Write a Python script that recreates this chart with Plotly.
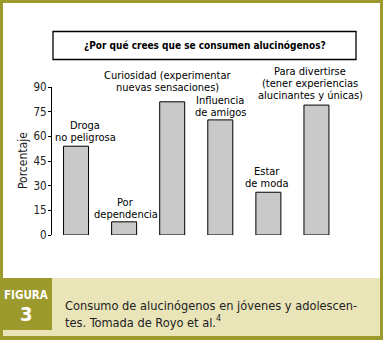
import plotly.graph_objects as go

# ---- data ----
categories = ["Droga no peligrosa", "Por dependencia", "Curiosidad", "Influencia de amigos", "Estar de moda", "Para divertirse"]
bar_labels = [
    "Droga<br>no peligrosa",
    "Por<br>dependencia",
    "Curiosidad (experimentar<br>nuevas sensaciones)",
    "Influencia<br>de amigos",
    "Estar<br>de moda",
    "Para divertirse<br>(tener experiencias<br>alucinantes y únicas)",
]
values = [54, 8, 81, 70, 26, 79]
y_ticks = [0, 15, 30, 45, 60, 75, 90]
title_text = "¿Por qué crees que se consumen alucinógenos?"
y_title = "Porcentaje"
fig_label = "FIGURA"
fig_number = "3"
caption = "Consumo de alucinógenos en jóvenes y adolescen-<br>tes. Tomada de Royo et al.<sup>4</sup>"

# ---- style / layout constants ----
W, H = 383, 340
FONT = "DejaVu Sans Condensed, Liberation Sans Narrow, sans-serif"
OLIVE = "#9d9a2d"
BEIGE = "#e9e5b9"
BAR = "#c9c9c9"
label_xshift = [9, 1.5, -4.5, 0, -1, -6]
label_gap = [9, 7, 14, 7, 9, 10]
LINE_H = 12


def px(x):
    return x / W


def py(y):
    return 1 - y / H


fig = go.Figure()
fig.add_trace(go.Bar(
    x=categories, y=values,
    marker=dict(color=BAR, line=dict(color="black", width=1)),
    width=0.52, hoverinfo="skip",
))

annotations = []
for i, (cat, val, lab) in enumerate(zip(categories, values, bar_labels)):
    lines = lab.split("<br>")
    n = len(lines)
    for k, line in enumerate(lines):
        from_bottom = n - 1 - k
        annotations.append(dict(
            x=cat, y=val, xref="x", yref="y", text=line, showarrow=False,
            xanchor="center", yanchor="middle",
            xshift=label_xshift[i], yshift=label_gap[i] + from_bottom * LINE_H,
            font=dict(family=FONT, size=11, color="black"),
        ))

annotations += [
    dict(x=px(205), y=py(45.5), xref="paper", yref="paper", text="<b>" + title_text + "</b>",
         showarrow=False, xanchor="center", yanchor="middle",
         font=dict(family=FONT, size=10, color="black")),
    dict(x=px(23), y=py(161), xref="paper", yref="paper", text=y_title, textangle=-90,
         showarrow=False, xanchor="center", yanchor="middle",
         font=dict(family=FONT, size=12, color="#222222")),
    dict(x=px(26), y=py(295), xref="paper", yref="paper", text="<b>" + fig_label + "</b>",
         showarrow=False, xanchor="center", yanchor="middle",
         font=dict(family=FONT, size=11.5, color="white")),
    dict(x=px(26), y=py(314), xref="paper", yref="paper", text="<b>" + fig_number + "</b>",
         showarrow=False, xanchor="center", yanchor="middle",
         font=dict(family=FONT, size=20, color="white")),
    dict(x=px(63), y=py(313.5), xref="paper", yref="paper", text=caption,
         showarrow=False, xanchor="left", yanchor="middle", align="left",
         font=dict(family=FONT, size=12.7, color="#222222")),
]

shapes = [
    dict(type="rect", xref="paper", yref="paper", x0=px(3), x1=px(380), y0=py(278), y1=py(3),
         fillcolor="white", line=dict(width=0), layer="below"),
    dict(type="rect", xref="paper", yref="paper", x0=px(3), x1=px(380), y0=py(336), y1=py(278),
         fillcolor=BEIGE, line=dict(width=0), layer="below"),
    dict(type="rect", xref="paper", yref="paper", x0=px(0), x1=px(52), y0=py(330), y1=py(278),
         fillcolor=OLIVE, line=dict(width=0), layer="below"),
    dict(type="rect", xref="paper", yref="paper", x0=px(53), x1=px(356), y0=py(59.5), y1=py(31.5),
         fillcolor="rgba(0,0,0,0)", line=dict(color="black", width=1.3)),
]

fig.update_layout(
    width=W, height=H, margin=dict(l=0, r=0, t=0, b=0, autoexpand=False),
    paper_bgcolor=OLIVE, plot_bgcolor="rgba(0,0,0,0)",
    showlegend=False, bargap=0.48,
    font=dict(family=FONT, size=12, color="black"),
    xaxis=dict(domain=[px(52), px(340.5)], range=[-0.5, 5.5], visible=False, fixedrange=True,
               automargin=False),
    yaxis=dict(domain=[py(235), py(87)], range=[0, 90], tickvals=y_ticks,
               showline=True, linecolor="black", linewidth=1, ticks="outside", ticklen=3,
               tickcolor="black", showgrid=False, zeroline=False, automargin=False,
               tickfont=dict(family=FONT, size=11.5, color="#222222"),
               ticklabelstandoff=-1,
               fixedrange=True),
    annotations=annotations, shapes=shapes,
)

fig.write_html("out.html", config={"displayModeBar": False},
               post_script="document.body.style.margin='0';")
